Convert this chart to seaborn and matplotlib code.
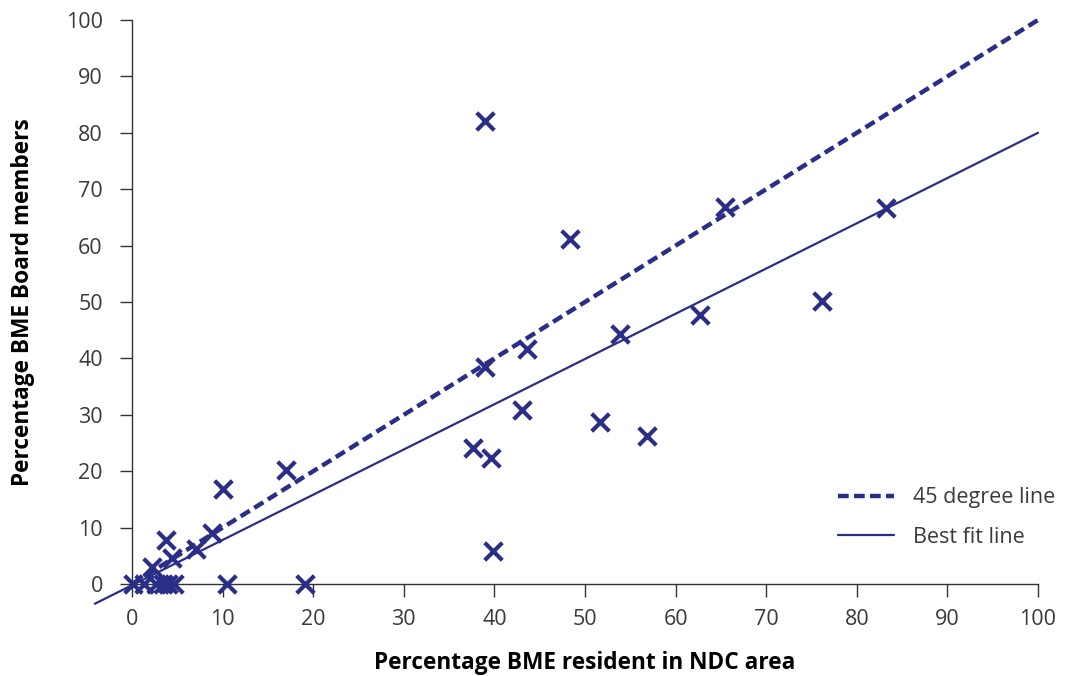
import numpy as np
import pandas as pd
import matplotlib
matplotlib.use("Agg")
import matplotlib.pyplot as plt
import seaborn as sns

# Data
resident_pct = [0.1, 1.3, 2.6, 3.4, 4.0, 4.6,
                2.2, 3.8, 4.4, 7.1, 8.8, 10.0, 10.5, 17.0, 19.1,
                37.6, 39.0, 39.0, 39.6, 39.8, 43.0, 43.6, 48.3, 51.7,
                53.9, 56.8, 62.7, 65.5, 76.2, 83.2]
board_pct = [0.0, 0.0, 0.0, 0.0, 0.0, 0.0,
             3.0, 7.8, 4.6, 6.2, 9.0, 16.8, 0.0, 20.2, 0.0,
             24.1, 82.1, 38.5, 22.3, 5.9, 30.9, 41.7, 61.2, 28.7,
             44.3, 26.2, 47.7, 66.8, 50.2, 66.7]
line45_x = [0, 100]
line45_y = [0, 100]
fit_x = [-4.1, 100]
fit_y = [-3.5, 80.0]

x_label = "Percentage BME resident in NDC area"
y_label = "Percentage BME Board members"
legend_labels = ["45 degree line", "Best fit line"]
ticks = list(range(0, 101, 10))

navy = "#2b2e87"

sns.set_style("white")
plt.rcParams['font.family'] = ['Open Sans', 'DejaVu Sans']
plt.rcParams.update({
    'xtick.bottom': True, 'ytick.left': True,
    'xtick.major.size': 9, 'ytick.major.size': 9,
    'xtick.major.width': 1.0, 'ytick.major.width': 1.0,
    'xtick.color': '#333333', 'ytick.color': '#333333',
})

fig = plt.figure(figsize=(10.65, 6.76), dpi=100)
ax = fig.add_axes([132/1065, 1 - 584/676, (1038-132)/1065, (584-20)/676])

df = pd.DataFrame({"x": resident_pct, "y": board_pct})
sns.lineplot(x=line45_x, y=line45_y, ax=ax, color=navy, linewidth=3.2,
             dashes=False, linestyle=(0, (2.4, 1.2)), label=legend_labels[0])
sns.lineplot(x=fit_x, y=fit_y, ax=ax, color=navy, linewidth=1.6,
             label=legend_labels[1])
for ln in ax.lines:
    ln.set_clip_on(False)
sns.scatterplot(data=df, x="x", y="y", ax=ax, marker="x", s=160,
                color=navy, linewidth=3.0, zorder=5, clip_on=False)

ax.set_xlim(0, 100)
ax.set_ylim(0, 100)
ax.set_xticks(ticks)
ax.set_yticks(ticks)
ax.tick_params(axis='both', direction='out', length=9, width=1.0,
               color='#333333', labelcolor='#3a3a3a', labelsize=15.5,
               bottom=True, left=True)
ax.tick_params(axis='y', pad=12)
ax.tick_params(axis='x', pad=9)
for t in ax.xaxis.get_major_ticks() + ax.yaxis.get_major_ticks():
    t.tick1line.set_visible(True)
for s in ["top", "right"]:
    ax.spines[s].set_visible(False)
for s in ["left", "bottom"]:
    ax.spines[s].set_color('#333333')
    ax.spines[s].set_linewidth(1.0)

ax.set_xlabel(x_label, fontsize=16.3, fontweight='bold', color='black', labelpad=15)
ax.set_ylabel(y_label, fontsize=16.3, fontweight='bold', color='black', labelpad=22)
ax.patch.set_alpha(0)

leg = ax.legend(loc='lower right', bbox_to_anchor=(1.04, 0.03), frameon=False,
                fontsize=15.5, handlelength=2.6, handletextpad=0.85,
                labelspacing=0.85)
for t in leg.get_texts():
    t.set_color('#3a3a3a')

fig.savefig("out.png", dpi=100)
